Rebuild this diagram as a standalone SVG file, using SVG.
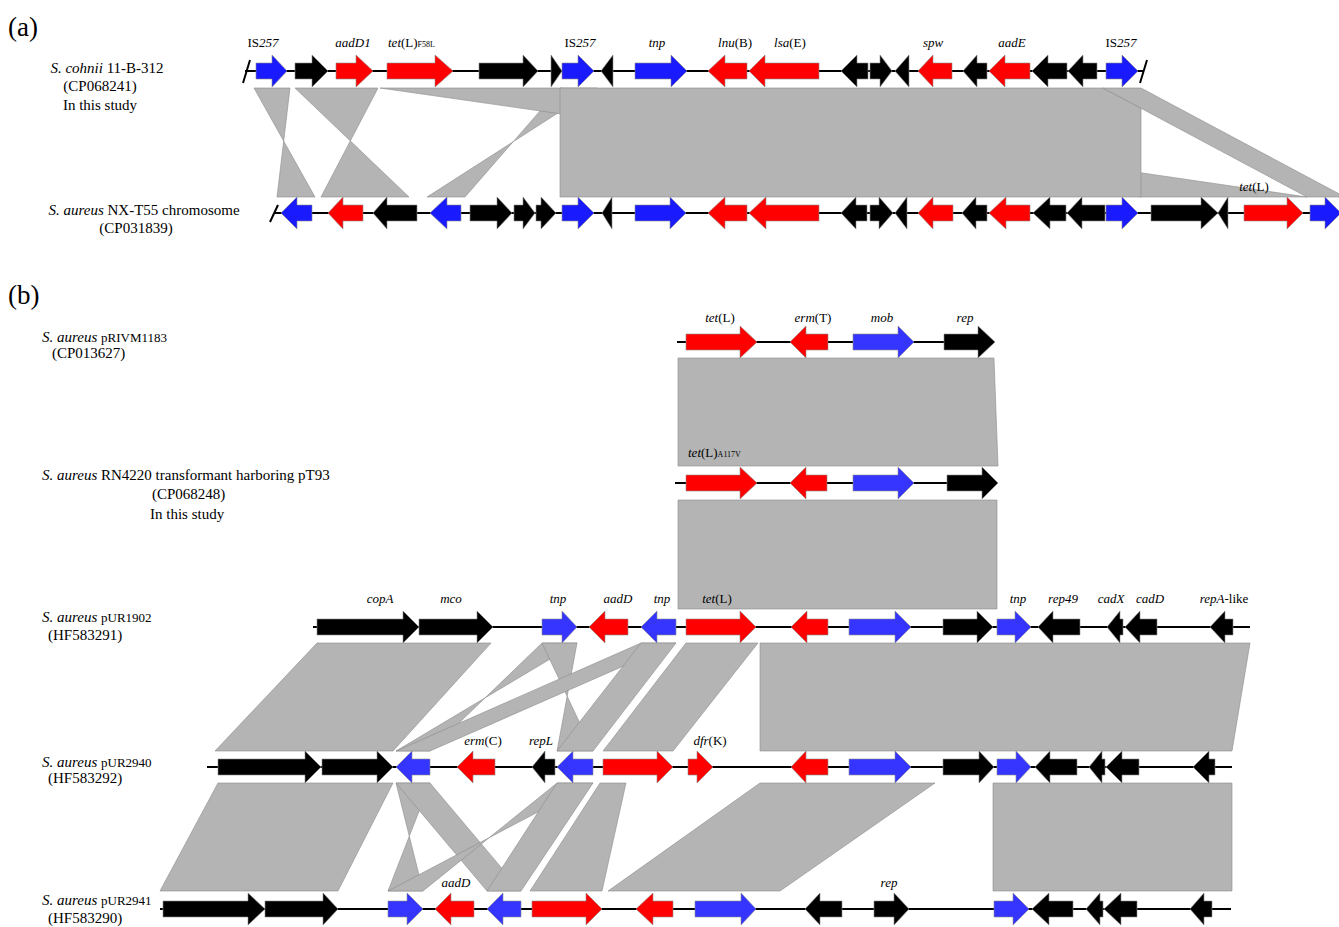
<svg xmlns="http://www.w3.org/2000/svg" width="1339" height="927" viewBox="0 0 1339 927">
<style>
text{font-family:"Liberation Serif","Times New Roman",serif;fill:#000}
.sp{font-size:15px}
.g{font-size:13px}
.i{font-style:italic}
.sub{font-size:8px}
.pl{font-size:13px}
.lab{font-size:27px}
.ln{stroke:#000;stroke-width:2;fill:none}
.r{fill:#ff0000;stroke:#8a8a8a;stroke-width:0.6}
.b{fill:#1a1aff;stroke:#8a8a8a;stroke-width:0.6}
.b2{fill:#3535ff;stroke:#8a8a8a;stroke-width:0.6}
.k{fill:#000;stroke:#8a8a8a;stroke-width:0.6}
.lk{fill:#b4b4b4;stroke:#8c8c8c;stroke-width:0.6}
</style>
<rect width="1339" height="927" fill="#fff"/>

<!-- connectors (homology links) -->
<g id="links">
<polygon class="lk" points="254,88 290,88 277,197 315,197"/>
<polygon class="lk" points="295,88 378,88 321,197 409,197"/>
<polygon class="lk" points="560,88 597,88 427,197 465,197"/>
<polygon class="lk" points="380,88 560,88 1307,197 1141,197"/>
<polygon class="lk" points="560,88 1103,88 1141,108 1141,197 560,197"/>
<polygon class="lk" points="1103,88 1141,88 1345,197 1307,197"/>

<polygon class="lk" points="678,358 994,358 998,466 678,466"/>
<polygon class="lk" points="678,500 997,500 997,609 678,609"/>

<polygon class="lk" points="317,643 491,643 393,751 215,751"/>
<polygon class="lk" points="542,643 577,643 396,751 430,751"/>
<polygon class="lk" points="542,643 577,643 557,751 593,751"/>
<polygon class="lk" points="641,643 676,643 430,751 396,751"/>
<polygon class="lk" points="641,643 676,643 593,751 557,751"/>
<polygon class="lk" points="686,643 758,643 673,751 603,751"/>
<polygon class="lk" points="760,643 1250,643 1232,751 760,751"/>

<polygon class="lk" points="218,783 393,783 338,891 160,891"/>
<polygon class="lk" points="396,783 430,783 388,891 423,891"/>
<polygon class="lk" points="396,783 430,783 521,891 487,891"/>
<polygon class="lk" points="557,783 593,783 388,891 423,891"/>
<polygon class="lk" points="557,783 593,783 521,891 487,891"/>
<polygon class="lk" points="600,783 626,783 602,891 530,891"/>
<polygon class="lk" points="760,783 935,783 780,891 608,891"/>
<polygon class="lk" points="993,783 1232,783 1232,891 993,891"/>
</g>

<text class="lab" x="8" y="36">(a)</text>
<text class="lab" x="8" y="304">(b)</text>

<!-- (a) top: S. cohnii -->
<g id="cohnii">
<text class="sp" x="107" y="73" text-anchor="middle"><tspan class="i">S. cohnii</tspan> 11-B-312</text>
<text class="sp" x="100" y="91" text-anchor="middle">(CP068241)</text>
<text class="sp" x="100" y="110" text-anchor="middle">In this study</text>
<path class="ln" d="M245,71H1143"/>
<path class="ln" d="M243,83L250,60M1140,83L1147,60"/>
<path class="b" d="M256,63H272V55L287,71L272,87V79H256Z"/>
<path class="k" d="M295,63H312V55L328,71L312,87V79H295Z"/>
<path class="r" d="M336,63H356V55L373,71L356,87V79H336Z"/>
<path class="r" d="M387,63H435V55L453,71L435,87V79H387Z"/>
<path class="k" d="M479,63H523V55L538,71L523,87V79H479Z"/>
<path class="k" d="M551,55L562,71L551,87Z"/>
<path class="b" d="M562,63H578V55L594,71L578,87V79H562Z"/>
<path class="k" d="M613,55L601,71L613,87Z"/>
<path class="b" d="M635,63H671V55L687,71L671,87V79H635Z"/>
<path class="r" d="M747,63H725V55L708,71L725,87V79H747Z"/>
<path class="r" d="M819,63H765V55L749,71L765,87V79H819Z"/>
<path class="k" d="M868,63H857V55L841,71L857,87V79H868Z"/>
<path class="k" d="M870,63H880V55L892,71L880,87V79H870Z"/>
<path class="k" d="M909,55L895,71L909,87Z"/>
<path class="r" d="M952,63H933V55L918,71L933,87V79H952Z"/>
<path class="k" d="M987,63H977V55L963,71L977,87V79H987Z"/>
<path class="r" d="M1030,63H1005V55L989,71L1005,87V79H1030Z"/>
<path class="k" d="M1067,63H1048V55L1032,71L1048,87V79H1067Z"/>
<path class="k" d="M1097,63H1083V55L1068,71L1083,87V79H1097Z"/>
<path class="b" d="M1106,63H1122V55L1138,71L1122,87V79H1106Z"/>
<text class="g" x="263" y="47" text-anchor="middle">IS<tspan class="i">257</tspan></text>
<text class="g i" x="353" y="47" text-anchor="middle">aadD1</text>
<text class="g" x="388" y="47"><tspan class="i">tet</tspan>(L)<tspan class="sub">F58L</tspan></text>
<text class="g" x="580" y="47" text-anchor="middle">IS<tspan class="i">257</tspan></text>
<text class="g i" x="657" y="47" text-anchor="middle">tnp</text>
<text class="g" x="735" y="47" text-anchor="middle"><tspan class="i">lnu</tspan>(B)</text>
<text class="g" x="790" y="47" text-anchor="middle"><tspan class="i">lsa</tspan>(E)</text>
<text class="g i" x="933" y="47" text-anchor="middle">spw</text>
<text class="g i" x="1012" y="47" text-anchor="middle">aadE</text>
<text class="g" x="1121" y="47" text-anchor="middle">IS<tspan class="i">257</tspan></text>
</g>

<!-- (a) bottom: NX-T55 -->
<g id="nxt55">
<text class="sp" x="144" y="215" text-anchor="middle"><tspan class="i">S. aureus</tspan> NX-T55 chromosome</text>
<text class="sp" x="136" y="233" text-anchor="middle">(CP031839)</text>
<path class="ln" d="M275,213H1339"/>
<path class="ln" d="M270,222L278,205"/>
<path class="b" d="M312,205H297V197L281,213L297,229V221H312Z"/>
<path class="r" d="M363,205H343V197L328,213L343,229V221H363Z"/>
<path class="k" d="M417,205H387V197L373,213L387,229V221H417Z"/>
<path class="b" d="M461,205H447V197L430,213L447,229V221H461Z"/>
<path class="k" d="M470,205H497V197L512,213L497,229V221H470Z"/>
<path class="k" d="M514,205H523V197L535,213L523,229V221H514Z"/>
<path class="k" d="M536,205H541V197L556,213L541,229V221H536Z"/>
<path class="b" d="M562,205H578V197L594,213L578,229V221H562Z"/>
<path class="k" d="M612,197L602,213L612,229Z"/>
<path class="b" d="M635,205H670V197L686,213L670,229V221H635Z"/>
<path class="r" d="M747,205H725V197L708,213L725,229V221H747Z"/>
<path class="r" d="M819,205H766V197L749,213L766,229V221H819Z"/>
<path class="k" d="M867,205H856V197L841,213L856,229V221H867Z"/>
<path class="k" d="M870,205H879V197L893,213L879,229V221H870Z"/>
<path class="k" d="M907,197L895,213L907,229Z"/>
<path class="r" d="M953,205H933V197L918,213L933,229V221H953Z"/>
<path class="k" d="M987,205H976V197L962,213L976,229V221H987Z"/>
<path class="r" d="M1030,205H1006V197L989,213L1006,229V221H1030Z"/>
<path class="k" d="M1066,205H1050V197L1033,213L1050,229V221H1066Z"/>
<path class="k" d="M1105,205H1082V197L1067,213L1082,229V221H1105Z"/>
<path class="b" d="M1106,205H1122V197L1138,213L1122,229V221H1106Z"/>
<path class="k" d="M1151,205H1201V197L1218,213L1201,229V221H1151Z"/>
<path class="k" d="M1228,197L1218,213L1228,229Z"/>
<path class="r" d="M1244,205H1287V197L1303,213L1287,229V221H1244Z"/>
<path class="b" d="M1310,205H1325V197L1341,213L1325,229V221H1310Z"/>
<text class="g" x="1254" y="191" text-anchor="middle"><tspan class="i">tet</tspan>(L)</text>
</g>

<!-- (b) pRIVM1183 -->
<g id="pRIVM1183">
<text class="sp" x="42" y="342"><tspan class="i">S. aureus</tspan> <tspan class="pl">pRIVM1183</tspan></text>
<text class="sp" x="52" y="358">(CP013627)</text>
<path class="ln" d="M677,342H990"/>
<path class="r" d="M686,334H740V326L757,342L740,358V350H686Z"/>
<path class="r" d="M828,334H806V326L790,342L806,358V350H828Z"/>
<path class="b2" d="M853,334H898V326L914,342L898,358V350H853Z"/>
<path class="k" d="M944,334H978V326L995,342L978,358V350H944Z"/>
<text class="g" x="720" y="322" text-anchor="middle"><tspan class="i">tet</tspan>(L)</text>
<text class="g" x="813" y="322" text-anchor="middle"><tspan class="i">erm</tspan>(T)</text>
<text class="g i" x="882" y="322" text-anchor="middle">mob</text>
<text class="g i" x="965" y="322" text-anchor="middle">rep</text>
</g>

<!-- (b) pT93 -->
<g id="pT93">
<text class="sp" x="42" y="480"><tspan class="i">S. aureus</tspan> RN4220 transformant harboring pT93</text>
<text class="sp" x="152" y="499">(CP068248)</text>
<text class="sp" x="150" y="519">In this study</text>
<path class="ln" d="M675,483H995"/>
<path class="r" d="M686,475H740V467L757,483L740,499V491H686Z"/>
<path class="r" d="M827,475H806V467L790,483L806,499V491H827Z"/>
<path class="b2" d="M853,475H898V467L914,483L898,499V491H853Z"/>
<path class="k" d="M947,475H982V467L998,483L982,499V491H947Z"/>
<text class="g" x="688" y="457"><tspan class="i">tet</tspan>(L)<tspan class="sub">A117V</tspan></text>
</g>

<!-- (b) pUR1902 -->
<g id="pUR1902">
<text class="sp" x="42" y="622"><tspan class="i">S. aureus</tspan> <tspan class="pl">pUR1902</tspan></text>
<text class="sp" x="48" y="640">(HF583291)</text>
<path class="ln" d="M313,627H1250"/>
<path class="k" d="M317,619H403V611L419,627L403,643V635H317Z"/>
<path class="k" d="M419,619H477V611L493,627L477,643V635H419Z"/>
<path class="b2" d="M542,619H562V611L577,627L562,643V635H542Z"/>
<path class="r" d="M628,619H605V611L589,627L605,643V635H628Z"/>
<path class="b2" d="M676,619H657V611L641,627L657,643V635H676Z"/>
<path class="r" d="M686,619H740V611L756,627L740,643V635H686Z"/>
<path class="r" d="M828,619H807V611L791,627L807,643V635H828Z"/>
<path class="b2" d="M849,619H895V611L911,627L895,643V635H849Z"/>
<path class="k" d="M943,619H977V611L993,627L977,643V635H943Z"/>
<path class="b2" d="M997,619H1015V611L1031,627L1015,643V635H997Z"/>
<path class="k" d="M1080,619H1053V611L1038,627L1053,643V635H1080Z"/>
<path class="k" d="M1123,619H1120V611L1107,627L1120,643V635H1123Z"/>
<path class="k" d="M1157,619H1140V611L1125,627L1140,643V635H1157Z"/>
<path class="k" d="M1233,619H1225V611L1210,627L1225,643V635H1233Z"/>
<text class="g i" x="380" y="603" text-anchor="middle">copA</text>
<text class="g i" x="451" y="603" text-anchor="middle">mco</text>
<text class="g i" x="558" y="603" text-anchor="middle">tnp</text>
<text class="g i" x="618" y="603" text-anchor="middle">aadD</text>
<text class="g i" x="662" y="603" text-anchor="middle">tnp</text>
<text class="g" x="717" y="603" text-anchor="middle"><tspan class="i">tet</tspan>(L)</text>
<text class="g i" x="1018" y="603" text-anchor="middle">tnp</text>
<text class="g i" x="1063" y="603" text-anchor="middle">rep49</text>
<text class="g i" x="1111" y="603" text-anchor="middle">cadX</text>
<text class="g i" x="1150" y="603" text-anchor="middle">cadD</text>
<text class="g" x="1224" y="603" text-anchor="middle"><tspan class="i">repA</tspan>-like</text>
</g>

<!-- (b) pUR2940 -->
<g id="pUR2940">
<text class="sp" x="42" y="767"><tspan class="i">S. aureus</tspan> <tspan class="pl">pUR2940</tspan></text>
<text class="sp" x="48" y="783">(HF583292)</text>
<path class="ln" d="M207,767H1232"/>
<path class="k" d="M218,759H305V751L321,767L305,783V775H218Z"/>
<path class="k" d="M322,759H377V751L393,767L377,783V775H322Z"/>
<path class="b2" d="M430,759H412V751L396,767L412,783V775H430Z"/>
<path class="r" d="M495,759H473V751L457,767L473,783V775H495Z"/>
<path class="k" d="M555,759H545V751L532,767L545,783V775H555Z"/>
<path class="b2" d="M593,759H573V751L557,767L573,783V775H593Z"/>
<path class="r" d="M603,759H657V751L673,767L657,783V775H603Z"/>
<path class="r" d="M688,759H697V751L713,767L697,783V775H688Z"/>
<path class="r" d="M828,759H806V751L791,767L806,783V775H828Z"/>
<path class="b2" d="M849,759H895V751L911,767L895,783V775H849Z"/>
<path class="k" d="M943,759H979V751L994,767L979,783V775H943Z"/>
<path class="b2" d="M997,759H1016V751L1031,767L1016,783V775H997Z"/>
<path class="k" d="M1077,759H1050V751L1035,767L1050,783V775H1077Z"/>
<path class="k" d="M1105,759H1102V751L1089,767L1102,783V775H1105Z"/>
<path class="k" d="M1139,759H1122V751L1106,767L1122,783V775H1139Z"/>
<path class="k" d="M1215,759H1209V751L1193,767L1209,783V775H1215Z"/>
<text class="g" x="483" y="745" text-anchor="middle"><tspan class="i">erm</tspan>(C)</text>
<text class="g i" x="541" y="745" text-anchor="middle">repL</text>
<text class="g" x="710" y="745" text-anchor="middle"><tspan class="i">dfr</tspan>(K)</text>
</g>

<!-- (b) pUR2941 -->
<g id="pUR2941">
<text class="sp" x="42" y="905"><tspan class="i">S. aureus</tspan> <tspan class="pl">pUR2941</tspan></text>
<text class="sp" x="48" y="923">(HF583290)</text>
<path class="ln" d="M160,909H1231"/>
<path class="k" d="M163,901H248V893L265,909L248,925V917H163Z"/>
<path class="k" d="M265,901H323V893L338,909L323,925V917H265Z"/>
<path class="b2" d="M388,901H407V893L423,909L407,925V917H388Z"/>
<path class="r" d="M474,901H451V893L435,909L451,925V917H474Z"/>
<path class="b2" d="M521,901H503V893L487,909L503,925V917H521Z"/>
<path class="r" d="M532,901H586V893L602,909L586,925V917H532Z"/>
<path class="r" d="M673,901H653V893L636,909L653,925V917H673Z"/>
<path class="b2" d="M695,901H741V893L756,909L741,925V917H695Z"/>
<path class="k" d="M842,901H820V893L805,909L820,925V917H842Z"/>
<path class="k" d="M874,901H894V893L909,909L894,925V917H874Z"/>
<path class="b2" d="M994,901H1013V893L1029,909L1013,925V917H994Z"/>
<path class="k" d="M1073,901H1049V893L1032,909L1049,925V917H1073Z"/>
<path class="k" d="M1103,901H1100V893L1086,909L1100,925V917H1103Z"/>
<path class="k" d="M1137,901H1121V893L1104,909L1121,925V917H1137Z"/>
<path class="k" d="M1212,901H1204V893L1190,909L1204,925V917H1212Z"/>
<text class="g i" x="456" y="887" text-anchor="middle">aadD</text>
<text class="g i" x="889" y="887" text-anchor="middle">rep</text>
</g>
</svg>
